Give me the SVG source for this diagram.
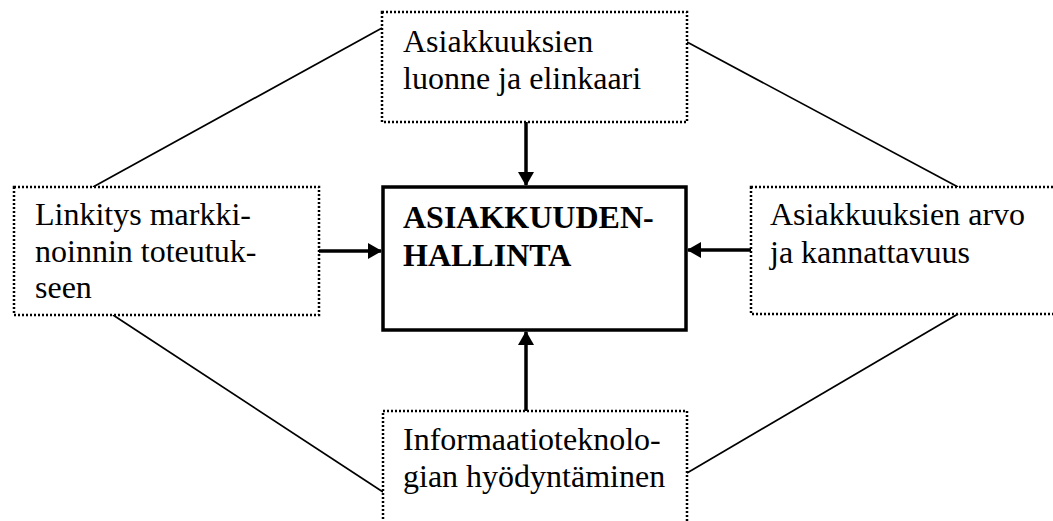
<svg xmlns="http://www.w3.org/2000/svg" width="1053" height="521" viewBox="0 0 1053 521">
<style>
.dot{fill:#fff;stroke:#000;stroke-width:2.5;stroke-dasharray:2 2}
.main{fill:#fff;stroke:#000;stroke-width:3.5}
.t{font-family:"Liberation Serif","Times New Roman",serif;font-size:32px;fill:#000}
.b{font-weight:bold}
.ln{stroke:#000;stroke-width:1.7;fill:none}
.ar{stroke:#000;stroke-width:3.5;fill:none;marker-end:url(#ah)}
</style>
<defs>
<marker id="ah" markerWidth="14" markerHeight="16" refX="13" refY="8" orient="auto" markerUnits="userSpaceOnUse">
<path d="M0,0 L14,8 L0,16 Z" fill="#000"/>
</marker>
</defs>
<g id="connectors">
<line class="ln" x1="382" y1="28" x2="93" y2="187"/>
<line class="ln" x1="687" y1="42" x2="958" y2="187"/>
<line class="ln" x1="113" y1="315" x2="383" y2="492"/>
<line class="ln" x1="687" y1="473" x2="958" y2="314"/>
<line class="ar" x1="526" y1="122" x2="526" y2="185"/>
<line class="ar" x1="319" y1="251" x2="381" y2="251"/>
<line class="ar" x1="751" y1="250" x2="688" y2="250"/>
<line class="ar" x1="526" y1="411" x2="526" y2="332"/>
</g>
<g id="top">
<rect class="dot" x="382" y="12" width="305" height="110"/>
<text class="t" x="403" y="52">Asiakkuuksien</text>
<text class="t" x="403" y="89">luonne ja elinkaari</text>
</g>
<g id="left">
<rect class="dot" x="14" y="187" width="305" height="128"/>
<text class="t" x="35" y="225">Linkitys markki-</text>
<text class="t" x="35" y="262">noinnin toteutuk-</text>
<text class="t" x="35" y="298">seen</text>
</g>
<g id="right">
<rect class="dot" x="751" y="187" width="320" height="127"/>
<text class="t" x="770" y="225">Asiakkuuksien arvo</text>
<text class="t" x="770" y="263">ja kannattavuus</text>
</g>
<g id="bottom">
<rect class="dot" x="383" y="411" width="304" height="130"/>
<text class="t" x="403" y="450">Informaatioteknolo-</text>
<text class="t" x="403" y="487">gian hyödyntäminen</text>
</g>
<g id="center">
<rect class="main" x="383" y="187" width="303" height="143"/>
<text class="t b" x="403" y="228">ASIAKKUUDEN-</text>
<text class="t b" x="403" y="266">HALLINTA</text>
</g>
</svg>
